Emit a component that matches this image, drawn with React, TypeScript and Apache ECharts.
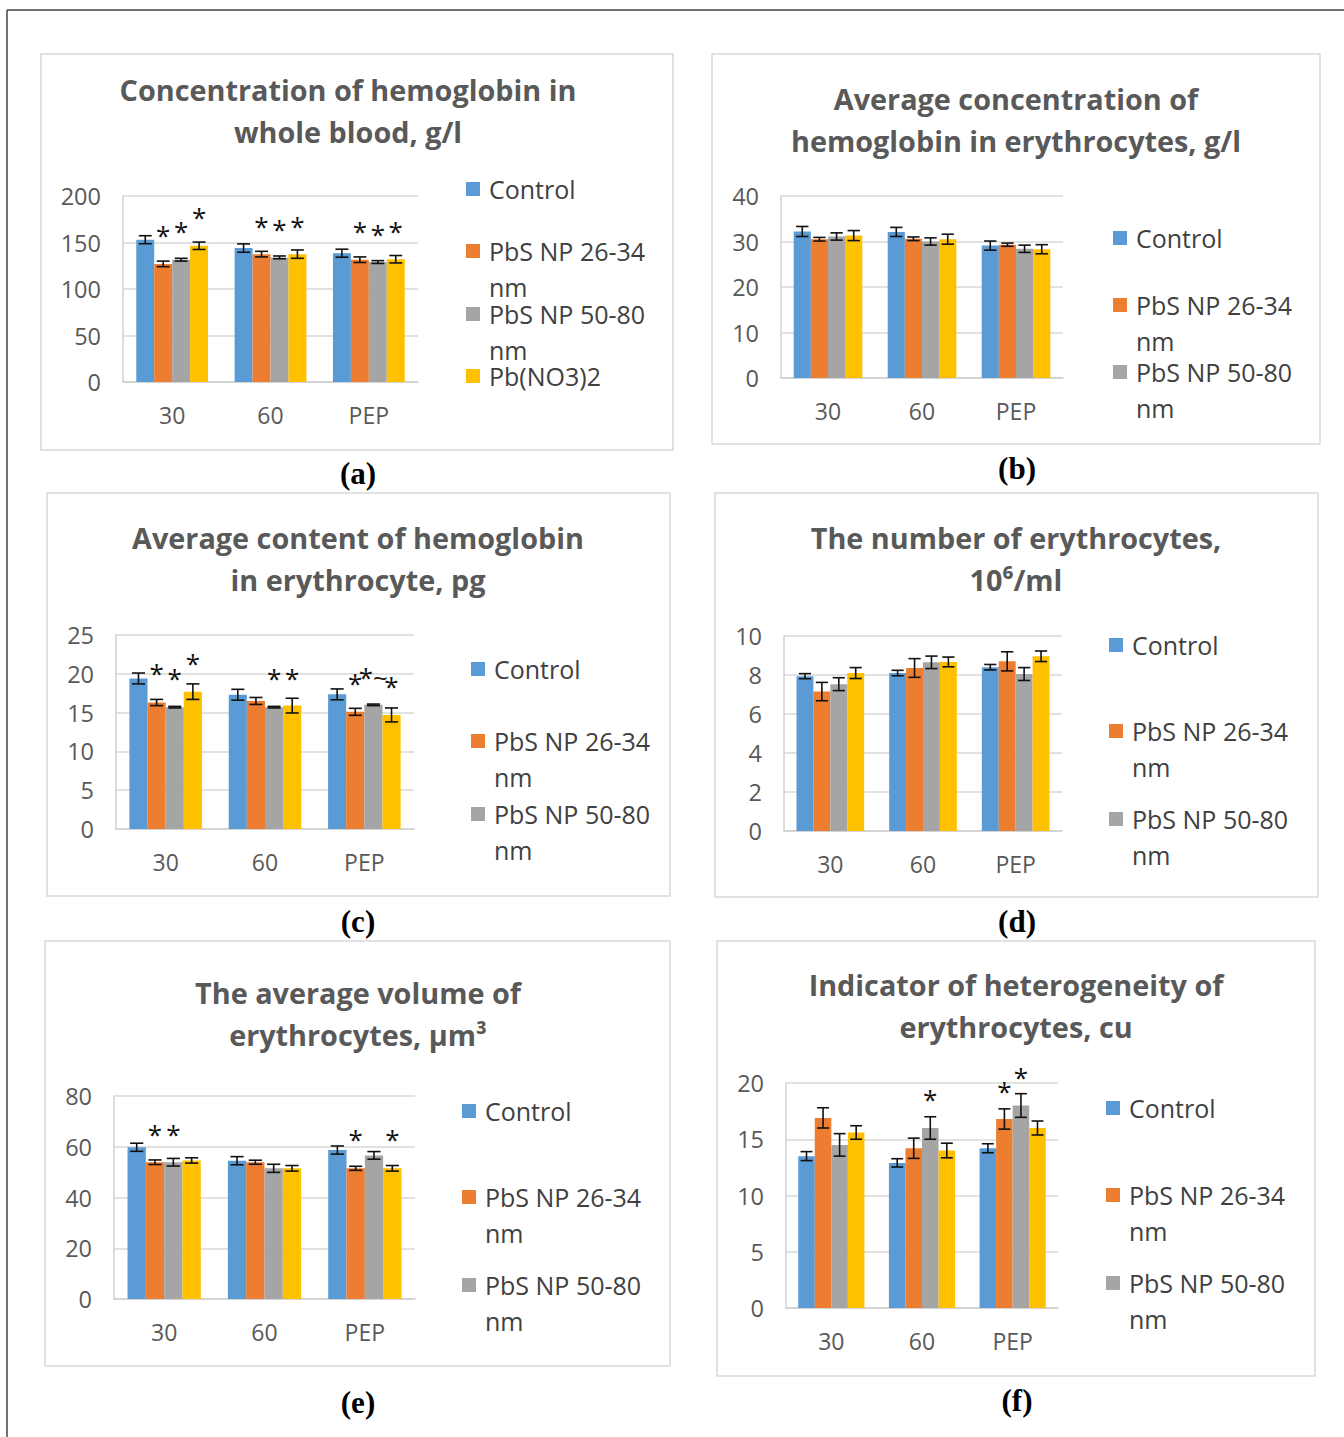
import React, { useEffect, useRef } from 'react';
import * as echarts from 'echarts';

const categories = ['30', '60', 'PEP'];
const seriesNames = ['Control', 'PbS NP 26-34 nm', 'PbS NP 50-80 nm', 'Pb(NO3)2'];
const colors = ['#5B9BD5', '#ED7D31', '#A5A5A5', '#FFC000'];

// (a) Concentration of hemoglobin in whole blood, g/l
const aControl = [153, 144, 138.5];
const aPbS26 = [127, 137.5, 131.5];
const aPbS50 = [131.5, 134, 129];
const aPbNO3 = [146.5, 137.5, 132];
const aErrors = [[4.3, 4.5, 4.3], [3, 3, 3], [1.5, 1.5, 1.5], [4, 4.5, 4]];
// [category, series, height, mark]
const aStars = [[0, 1, 164, '*'], [0, 2, 169, '*'], [0, 3, 184, '*'], [1, 1, 174, '*'], [1, 2, 171, '*'], [1, 3, 174, '*'], [2, 1, 169, '*'], [2, 2, 166, '*'], [2, 3, 169, '*']];

// (b) Average concentration of hemoglobin in erythrocytes, g/l
const bControl = [32.2, 32.1, 29.1];
const bPbS26 = [30.5, 30.6, 29.3];
const bPbS50 = [31.1, 30.0, 28.4];
const bPbNO3 = [31.3, 30.5, 28.3];
const bErrors = [[1.1, 1, 1], [0.4, 0.4, 0.35], [0.8, 0.8, 0.8], [1.1, 1.1, 1]];
const bStars: any[] = [];

// (c) Average content of hemoglobin in erythrocyte, pg
const cControl = [19.4, 17.3, 17.35];
const cPbS26 = [16.3, 16.5, 15.1];
const cPbS50 = [15.7, 15.7, 16.0];
const cPbNO3 = [17.7, 15.9, 14.7];
const cErrors = [[0.7, 0.7, 0.7], [0.4, 0.45, 0.45], [0.1, 0.1, 0.1], [1, 0.95, 0.9]];
const cStars = [[0, 1, 20.9, '*'], [0, 2, 20.2, '*'], [0, 3, 22.2, '*'], [1, 2, 20.2, '*'], [1, 3, 20.2, '*'], [2, 1, 19.6, '*'], [2, 2, 20.4, '*~'], [2, 3, 19.2, '*']];

// (d) The number of erythrocytes, 10^6/ml
const dControl = [7.94, 8.1, 8.4];
const dPbS26 = [7.15, 8.36, 8.7];
const dPbS50 = [7.53, 8.65, 8.05];
const dPbNO3 = [8.1, 8.67, 8.96];
const dErrors = [[0.13, 0.14, 0.14], [0.47, 0.48, 0.49], [0.33, 0.32, 0.33], [0.28, 0.25, 0.27]];
const dStars: any[] = [];

// (e) The average volume of erythrocytes, µm³
const eControl = [59.8, 54.5, 58.7];
const ePbS26 = [53.9, 53.9, 51.5];
const ePbS50 = [53.9, 51.5, 56.6];
const ePbNO3 = [54.6, 51.5, 51.5];
const eErrors = [[1.6, 1.6, 1.6], [0.9, 0.8, 0.8], [1.5, 1.6, 1.5], [1.05, 1.1, 1.1]];
const eStars = [[0, 1, 67.3, '*'], [0, 2, 67.3, '*'], [2, 1, 65.3, '*'], [2, 3, 65.3, '*']];

// (f) Indicator of heterogeneity of erythrocytes, cu
const fControl = [13.5, 12.9, 14.2];
const fPbS26 = [16.9, 14.2, 16.8];
const fPbS50 = [14.5, 16.0, 18.0];
const fPbNO3 = [15.6, 14.0, 16.0];
const fErrors = [[0.4, 0.37, 0.4], [0.9, 0.9, 0.9], [1, 1, 1.05], [0.6, 0.65, 0.62]];
const fStars = [[1, 2, 19.1, '*'], [2, 1, 19.85, '*'], [2, 2, 21.05, '*']];

const titles = [
  'Concentration of hemoglobin in\nwhole blood, g/l',
  'Average concentration of\nhemoglobin in erythrocytes, g/l',
  'Average content of hemoglobin\nin erythrocyte, pg',
  'The number of erythrocytes,\n10\u2076/ml',
  'The average volume of\nerythrocytes, \u00b5m\u00b3',
  'Indicator of heterogeneity of\nerythrocytes, cu',
];
const tags = ['(a)', '(b)', '(c)', '(d)', '(e)', '(f)'];
const yMax = [200, 40, 25, 10, 80, 20];
const yInterval = [50, 10, 5, 2, 20, 5];

const panels = [
  { values: [aControl, aPbS26, aPbS50, aPbNO3], errors: aErrors, stars: aStars },
  { values: [bControl, bPbS26, bPbS50, bPbNO3], errors: bErrors, stars: bStars },
  { values: [cControl, cPbS26, cPbS50, cPbNO3], errors: cErrors, stars: cStars },
  { values: [dControl, dPbS26, dPbS50, dPbNO3], errors: dErrors, stars: dStars },
  { values: [eControl, ePbS26, ePbS50, ePbNO3], errors: eErrors, stars: eStars },
  { values: [fControl, fPbS26, fPbS50, fPbNO3], errors: fErrors, stars: fStars },
];

// layout (pixels)
const layout = [
  { box: [41, 54, 632, 396], grid: [123, 196, 295, 186], title: [348, 89], legendX: 466, legendY: [189, 251, 314, 376], tag: [358, 473] },
  { box: [712, 54, 608, 390], grid: [781, 196, 282, 182], title: [1016, 98], legendX: 1113, legendY: [238, 305, 372], tag: [1017, 468] },
  { box: [47, 493, 623, 403], grid: [116, 635, 298, 194], title: [358, 537], legendX: 471, legendY: [669, 741, 814], tag: [358, 921] },
  { box: [715, 493, 603, 404], grid: [784, 636, 278, 195], title: [1016, 537], legendX: 1109, legendY: [645, 731, 819], tag: [1017, 921] },
  { box: [45, 941, 625, 425], grid: [114, 1096, 301, 203], title: [358, 992], legendX: 462, legendY: [1111, 1197, 1285], tag: [358, 1402] },
  { box: [717, 941, 598, 435], grid: [786, 1083, 272, 225], title: [1016, 984], legendX: 1106, legendY: [1108, 1195, 1283], tag: [1017, 1400] },
];

const FONT = '"Open Sans", Lato, sans-serif';
const CAT_GAP = 0.27;

function barOffset(api: any, k: number) {
  const band = api.size([1, 0])[0];
  const bw = (band * (1 - CAT_GAP)) / 4;
  return { bw, dx: (k - 1.5) * bw };
}

function errorRenderer(params: any, api: any) {
  const c = api.value(0);
  const v = api.value(1);
  const e = api.value(2);
  const k = api.value(3);
  const { bw, dx } = barOffset(api, k);
  const p = api.coord([c, v]);
  const x = p[0] + dx;
  const top = api.coord([c, v + e])[1];
  const bot = api.coord([c, v - e])[1];
  const cap = bw * 0.36;
  const st = { stroke: '#111', lineWidth: 1.6 };
  return {
    type: 'group',
    children: [
      { type: 'line', shape: { x1: x, y1: top, x2: x, y2: bot }, style: st },
      { type: 'line', shape: { x1: x - cap, y1: top, x2: x + cap, y2: top }, style: st },
      { type: 'line', shape: { x1: x - cap, y1: bot, x2: x + cap, y2: bot }, style: st },
    ],
  };
}

function makeStarRenderer(stars: any[]) {
  return (params: any, api: any) => {
    const c = api.value(0);
    const v = api.value(1);
    const k = api.value(2);
    const { dx } = barOffset(api, k);
    const p = api.coord([c, v]);
    const text = stars[params.dataIndex][3];
    return {
      type: 'text',
      x: p[0] + dx,
      y: p[1] + 6,
      style: {
        text,
        fill: '#111',
        fontSize: 26,
        lineHeight: 18,
        fontFamily: FONT,
        align: 'center',
        verticalAlign: 'middle',
        textAlign: 'center',
        textVerticalAlign: 'middle',
      },
    };
  };
}

function textEl(x: number, y: number, text: string, opts: any) {
  const style: any = {
    text,
    align: opts.align || 'left',
    textAlign: opts.align || 'left',
    verticalAlign: 'middle',
    textVerticalAlign: 'middle',
    fill: opts.fill,
    fontSize: opts.fontSize,
    fontFamily: opts.fontFamily || FONT,
    fontWeight: opts.fontWeight || 'normal',
  };
  if (opts.lineHeight) style.lineHeight = opts.lineHeight;
  return { type: 'text', x, y, silent: true, style };
}

function buildOption() {
  const grid: any[] = [];
  const xAxis: any[] = [];
  const yAxis: any[] = [];
  const series: any[] = [];
  const graphic: any[] = [];

  panels.forEach((p, i) => {
    const L = layout[i];
    grid.push({ left: L.grid[0], top: L.grid[1], width: L.grid[2], height: L.grid[3], containLabel: false });
    xAxis.push({
      type: 'category',
      gridIndex: i,
      data: categories,
      axisTick: { show: false },
      axisLine: { show: true, lineStyle: { color: '#d0d0d0', width: 1.5 } },
      axisLabel: { color: '#595959', fontSize: 23, fontFamily: FONT, margin: 21 },
    });
    yAxis.push({
      type: 'value',
      gridIndex: i,
      min: 0,
      max: yMax[i],
      interval: yInterval[i],
      axisLine: { show: true, lineStyle: { color: '#d0d0d0', width: 1.5 } },
      axisTick: { show: false },
      splitLine: { show: true, lineStyle: { color: '#d9d9d9', width: 1.5 } },
      axisLabel: { color: '#595959', fontSize: 23.5, fontFamily: FONT, margin: 22 },
    });
    p.values.forEach((vals, k) => {
      series.push({
        type: 'bar',
        name: seriesNames[k],
        xAxisIndex: i,
        yAxisIndex: i,
        data: vals,
        barGap: '0%',
        barCategoryGap: CAT_GAP * 100 + '%',
        itemStyle: { color: colors[k] },
        silent: true,
      });
    });
    const errData: number[][] = [];
    p.values.forEach((vals, k) => vals.forEach((v, c) => errData.push([c, v, p.errors[k][c], k])));
    series.push({
      type: 'custom',
      xAxisIndex: i,
      yAxisIndex: i,
      data: errData,
      renderItem: errorRenderer,
      z: 5,
      silent: true,
    });
    if (p.stars.length) {
      series.push({
        type: 'custom',
        xAxisIndex: i,
        yAxisIndex: i,
        data: p.stars.map((s: any) => [s[0], s[2], s[1]]),
        renderItem: makeStarRenderer(p.stars),
        clip: false,
        z: 6,
        silent: true,
      });
    }

    // panel box
    graphic.push({
      type: 'rect',
      silent: true,
      shape: { x: L.box[0], y: L.box[1], width: L.box[2], height: L.box[3] },
      style: { fill: 'none', stroke: '#d9d9d9', lineWidth: 1.5 },
    });
    // title
    titles[i].split('\n').forEach((line, li) => {
      graphic.push(textEl(L.title[0], L.title[1] + li * 42, line, { align: 'center', fill: '#595959', fontSize: 28.8, fontWeight: 'bold' }));
    });
    // legend
    L.legendY.forEach((ly, k) => {
      graphic.push({
        type: 'rect',
        silent: true,
        shape: { x: L.legendX, y: ly - 7, width: 14, height: 14 },
        style: { fill: colors[k] },
      });
      const name = seriesNames[k];
      const lines = name.endsWith(' nm') ? [name.slice(0, -3), 'nm'] : [name];
      lines.forEach((ln, li) => {
        graphic.push(textEl(L.legendX + 23, ly + li * 36, ln, { fill: '#404040', fontSize: 25, lineHeight: 25 }));
      });
    });
    // tag
    graphic.push(textEl(L.tag[0], L.tag[1], tags[i], { align: 'center', fill: '#000', fontSize: 31, fontWeight: 'bold', fontFamily: '"Liberation Serif", "Times New Roman", serif' }));
  });

  // outer frame
  graphic.push({ type: 'line', silent: true, shape: { x1: 7, y1: 10, x2: 1344, y2: 10 }, style: { stroke: '#444', lineWidth: 1.5 } });
  graphic.push({ type: 'line', silent: true, shape: { x1: 7, y1: 10, x2: 7, y2: 1437 }, style: { stroke: '#444', lineWidth: 1.5 } });

  return {
    animation: false,
    backgroundColor: '#ffffff',
    grid,
    xAxis,
    yAxis,
    series,
    graphic: { elements: graphic },
  };
}

export default function App() {
  const ref = useRef<HTMLDivElement>(null);
  useEffect(() => {
    if (!ref.current) return;
    const chart = echarts.init(ref.current, null, { renderer: 'svg' });
    chart.setOption(buildOption() as any);
    return () => chart.dispose();
  }, []);
  return (
    <div
      ref={ref}
      style={{ position: 'absolute', left: 0, top: 0, width: 1344, height: 1437, background: '#fff' }}
    />
  );
}
